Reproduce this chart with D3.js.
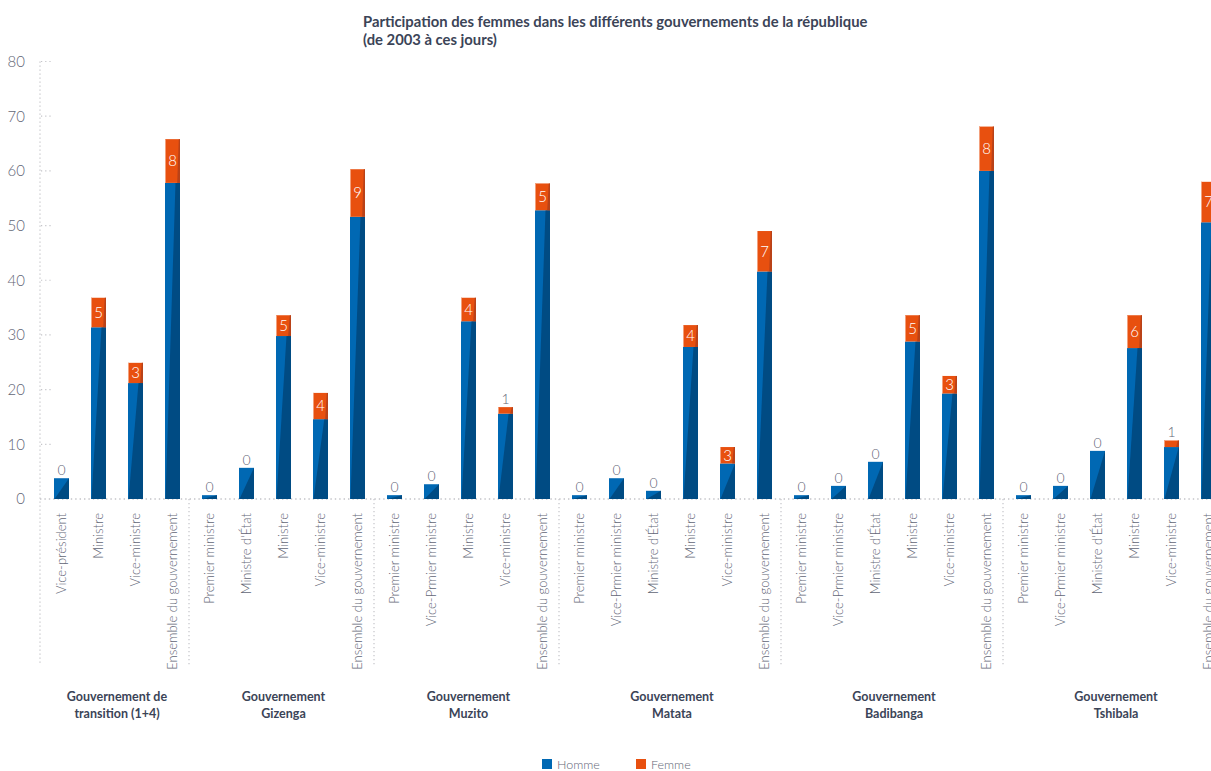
<!DOCTYPE html>
<html><head><meta charset="utf-8">
<script src="https://cdn.jsdelivr.net/npm/d3@7"></script>
<style>
body{margin:0;background:#fff}
svg{display:block;font-family:Lato,"Open Sans",sans-serif}
</style>
</head><body>
<svg id="c" width="1211" height="771"></svg>
<script>
// ---- data ----
const titre = ["Participation des femmes dans les différents gouvernements de la république", "(de 2003 à ces jours)"];
const gouvernements = [
  ["Gouvernement de", "transition (1+4)"],
  ["Gouvernement", "Gizenga"],
  ["Gouvernement", "Muzito"],
  ["Gouvernement", "Matata"],
  ["Gouvernement", "Badibanga"],
  ["Gouvernement", "Tshibala"]
];
const postes = [
  "Vice-président", "Ministre", "Vice-ministre", "Ensemble du gouvernement",
  "Premier ministre", "Ministre d'État", "Ministre", "Vice-ministre", "Ensemble du gouvernement",
  "Premier ministre", "Vice-Prmier ministre", "Ministre", "Vice-ministre", "Ensemble du gouvernement",
  "Premier ministre", "Vice-Prmier ministre", "Ministre d'État", "Ministre", "Vice-ministre", "Ensemble du gouvernement",
  "Premier ministre", "Vice-Prmier ministre", "Ministre d'État", "Ministre", "Vice-ministre", "Ensemble du gouvernement",
  "Premier ministre", "Vice-Prmier ministre", "Ministre d'État", "Ministre", "Vice-ministre", "Ensemble du gouvernement"
];
const groupe = [0,0,0,0, 1,1,1,1,1, 2,2,2,2,2, 3,3,3,3,3,3, 4,4,4,4,4,4, 5,5,5,5,5,5];
const homme = [3.8, 31.4, 21.2, 57.8,
  0.7, 5.7, 29.8, 14.6, 51.6,
  0.7, 2.7, 32.5, 15.6, 52.8,
  0.7, 3.8, 1.5, 27.8, 6.5, 41.6,
  0.7, 2.4, 6.8, 28.8, 19.3, 60.0,
  0.7, 2.4, 8.8, 27.6, 9.5, 50.6];
const femme = [0, 5.4, 3.7, 8.0,
  0, 0, 3.8, 4.8, 8.7,
  0, 0, 4.3, 1.2, 4.9,
  0, 0, 0, 4.0, 3.0, 7.4,
  0, 0, 0, 4.8, 3.2, 8.1,
  0, 0, 0, 6.0, 1.2, 7.4];
const femmeLabels = [0, 5, 3, 8,
  0, 0, 5, 4, 9,
  0, 0, 4, 1, 5,
  0, 0, 0, 4, 3, 7,
  0, 0, 0, 5, 3, 8,
  0, 0, 0, 6, 1, 7];
const yTicks = [0, 10, 20, 30, 40, 50, 60, 70, 80];
const legende = ["Homme", "Femme"];

// ---- style ----
const BLUE = "#0068b3", BLUE_D = "#004b83", ORANGE = "#e8500f", ORANGE_D = "#b0401a", ORANGE_L = "#f3a07c";
const GREY = "#626676", DARK = "#3b4457", DOT = "#c4c4c8";

const svg = d3.select("#c");
const n = postes.length;
const x = d3.scaleBand().domain(d3.range(n)).range([43, 43 + n * 37])
  .paddingInner(22 / 37).paddingOuter(11 / 37);
const bw = x.bandwidth();
const y = d3.scaleLinear().domain([0, 80]).range([499, 61.5]);

// title
svg.append("text").attr("x", 363).attr("y", 27)
  .attr("font-size", 14.8).attr("font-weight", 700).attr("fill", DARK)
  .selectAll("tspan").data(titre).join("tspan")
  .attr("x", 363).attr("dy", (d, i) => i ? 18 : 0).text(d => d);

// y axis labels
const ya = svg.append("g").attr("transform", "translate(40,0)")
  .call(d3.axisLeft(y).tickValues(yTicks).tickSize(0).tickPadding(15));
ya.select(".domain").remove();
ya.selectAll("text").attr("font-size", 15).attr("font-weight", 300).attr("fill", GREY)
  .attr("font-family", "Lato, 'Open Sans', sans-serif");

// tick dots
svg.append("g").selectAll("line").data(yTicks.filter(t => t > 0)).join("line")
  .attr("x1", 41).attr("x2", 52).attr("y1", d => y(d)).attr("y2", d => y(d))
  .attr("stroke", DOT).attr("stroke-width", 1.2).attr("stroke-dasharray", "1.2,3");

// axis dotted vertical
svg.append("line").attr("x1", 40).attr("x2", 40).attr("y1", y(80)).attr("y2", 665)
  .attr("stroke", DOT).attr("stroke-width", 1.2).attr("stroke-dasharray", "1.2,2.8");
// baseline
svg.append("line").attr("x1", 40).attr("x2", 1211).attr("y1", y(0)).attr("y2", y(0))
  .attr("stroke", DOT).attr("stroke-width", 1.4).attr("stroke-dasharray", "1.4,3");

// group separators
const firsts = d3.range(n).filter(i => i > 0 && groupe[i] !== groupe[i - 1]);
svg.append("g").selectAll("line").data(firsts).join("line")
  .attr("x1", i => x(i) - (x.step() - bw) / 2 - 2).attr("x2", i => x(i) - (x.step() - bw) / 2 - 2)
  .attr("y1", y(0)).attr("y2", 665)
  .attr("stroke", DOT).attr("stroke-width", 1.2).attr("stroke-dasharray", "1.2,2.8");

// bars
const bars = svg.append("g").selectAll("g").data(d3.range(n)).join("g");
bars.append("rect").attr("x", i => x(i)).attr("y", i => y(homme[i]))
  .attr("width", bw).attr("height", i => y(0) - y(homme[i])).attr("fill", BLUE);
bars.append("path").attr("fill", BLUE_D).attr("d", i => {
  const x0 = x(i), x1 = x(i) + bw, yt = y(homme[i]), yb = y(0), h = yb - yt;
  const frac = h <= 50 ? 1 : Math.max(0.7, 1 - (h - 50) / 120);
  return `M${x0 + 0.5},${yb}L${x0 + bw * frac},${yt}L${x1},${yt}L${x1},${yb}Z`;
});
const withF = bars.filter(i => femme[i] > 0);
withF.append("rect").attr("x", i => x(i)).attr("y", i => y(homme[i] + femme[i]))
  .attr("width", bw).attr("height", i => y(homme[i]) - y(homme[i] + femme[i])).attr("fill", ORANGE);
withF.append("path").attr("fill", ORANGE_D).attr("opacity", 0.85).attr("d", i => {
  const x1 = x(i) + bw, yt = y(homme[i] + femme[i]), yb = y(homme[i]);
  return `M${x1 - 1.2},${yt}L${x1},${yt}L${x1},${yb}L${x1 - 2.8},${yb}Z`;
});
withF.append("rect").attr("x", i => x(i)).attr("y", i => y(homme[i] + femme[i]))
  .attr("width", 1).attr("height", i => y(homme[i]) - y(homme[i] + femme[i])).attr("fill", ORANGE_L);

// value labels
bars.append("text")
  .attr("x", i => x(i) + bw / 2)
  .attr("text-anchor", "middle")
  .attr("font-weight", 300)
  .each(function (i) {
    const t = d3.select(this);
    const segH = y(homme[i]) - y(homme[i] + femme[i]);
    if (segH >= 12) {
      t.attr("y", (y(homme[i]) + y(homme[i] + femme[i])) / 2).attr("dy", "0.36em")
        .attr("fill", "#fff").attr("font-size", 15);
    } else {
      t.attr("y", y(homme[i] + femme[i]) - 3).attr("fill", GREY).attr("font-size", 14);
    }
  })
  .text(i => femmeLabels[i]);

// category labels
svg.append("g").selectAll("text").data(d3.range(n)).join("text")
  .attr("transform", i => `translate(${x(i) + bw / 2},513) rotate(-90)`)
  .attr("text-anchor", "end").attr("dy", "0.35em")
  .attr("font-size", 13).attr("font-weight", 300).attr("fill", GREY)
  .text(i => postes[i]);

// group labels
svg.append("g").selectAll("text").data(gouvernements).join("text")
  .attr("text-anchor", "middle").attr("font-size", 12.5).attr("font-weight", 700).attr("fill", DARK)
  .each(function (lines, g) {
    const idx = d3.range(n).filter(i => groupe[i] === g);
    const cx = (x(idx[0]) + x(idx[idx.length - 1]) + bw) / 2;
    d3.select(this).selectAll("tspan").data(lines).join("tspan")
      .attr("x", cx).attr("y", (d, k) => 701 + k * 17).text(d => d);
  });

// legend
const leg = svg.append("g").selectAll("g").data(legende).join("g")
  .attr("transform", (d, i) => `translate(${542 + i * 94},759)`);
leg.append("rect").attr("width", 10).attr("height", 10).attr("fill", (d, i) => i ? ORANGE : BLUE);
leg.append("text").attr("x", 15).attr("y", 9.5).attr("font-size", 12.5).attr("font-weight", 300)
  .attr("fill", GREY).text(d => d);
</script>
</body></html>
